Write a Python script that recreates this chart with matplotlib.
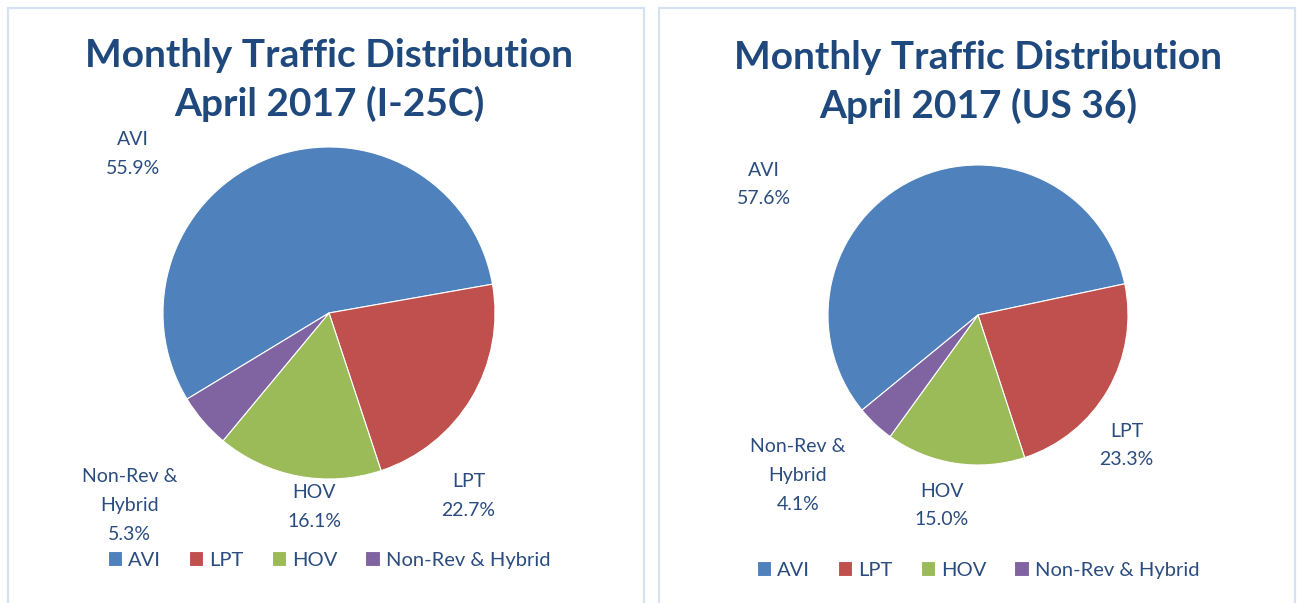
import matplotlib
matplotlib.use("Agg")
import matplotlib.pyplot as plt
from matplotlib.patches import Rectangle

categories = ["AVI", "LPT", "HOV", "Non-Rev & Hybrid"]
label_names = ["AVI", "LPT", "HOV", "Non-Rev &\nHybrid"]
i25_values = [55.9, 22.7, 16.1, 5.3]
us36_values = [57.6, 23.3, 15.0, 4.1]
titles = ["Monthly Traffic Distribution\nApril 2017 (I-25C)",
          "Monthly Traffic Distribution\nApril 2017 (US 36)"]
colors = ["#4F81BD", "#C0504D", "#9BBB59", "#8064A2"]

TEXT = "#1F497D"
LBL = "#2B4C7E"
W, H = 1297, 603
plt.rcParams['font.family'] = ['Lato', 'DejaVu Sans']

fig = plt.figure(figsize=(W / 100, H / 100), dpi=100)
fig.patch.set_facecolor("white")

# panel borders
for (x0, x1) in [(8, 644), (659, 1295)]:
    fig.patches.append(Rectangle((x0 / W, -0.05), (x1 - x0) / W, (H - 8) / H + 0.05,
                                 transform=fig.transFigure, fill=False,
                                 edgecolor="#D5E2F3", linewidth=1.6))

panels = [
    dict(values=i25_values, cx=329, cy=313, r=166, title=titles[0], tx=329, ty=80,
         legend_y=560, offset=10,
         lpos=[(-1.18, 0.96), (0.84, -1.10), (-0.09, -1.17), (-1.20, -1.16)]),
    dict(values=us36_values, cx=978, cy=315, r=150, title=titles[1], tx=978, ty=82,
         legend_y=570, offset=12,
         lpos=[(-1.43, 0.87), (0.99, -0.87), (-0.24, -1.27), (-1.20, -1.07)]),
]

for p in panels:
    vals = p["values"]
    cx, cy, r = p["cx"], p["cy"], p["r"]
    ax = fig.add_axes([(cx - r) / W, (H - cy - r) / H, 2 * r / W, 2 * r / H])
    start = 360 * vals[0] / 100 + p["offset"]
    wedges, _ = ax.pie(vals, colors=colors, startangle=start, counterclock=False,
                       wedgeprops=dict(linewidth=0.8, edgecolor="white"))
    ax.set_xlim(-1, 1)
    ax.set_ylim(-1, 1)
    ax.set_aspect("auto")
    ax.axis("off")
    for name, v, (lx, ly) in zip(label_names, vals, p["lpos"]):
        ax.text(lx, ly, f"{name}\n{v:.1f}%", ha="center", va="center",
                fontsize=14, color=LBL, linespacing=1.85, clip_on=False)
    fig.text(p["tx"] / W, 1 - p["ty"] / H, p["title"], ha="center", va="center",
             fontsize=28, fontweight="bold", color=TEXT, linespacing=1.42)
    fig.legend(wedges, categories, loc="center", ncol=4, frameon=False,
               bbox_to_anchor=(cx / W, 1 - p["legend_y"] / H),
               fontsize=14.5, labelcolor=LBL, handlelength=0.7, handleheight=0.7,
               handletextpad=0.3, columnspacing=1.4)

fig.savefig("out.png", dpi=100, facecolor="white")
